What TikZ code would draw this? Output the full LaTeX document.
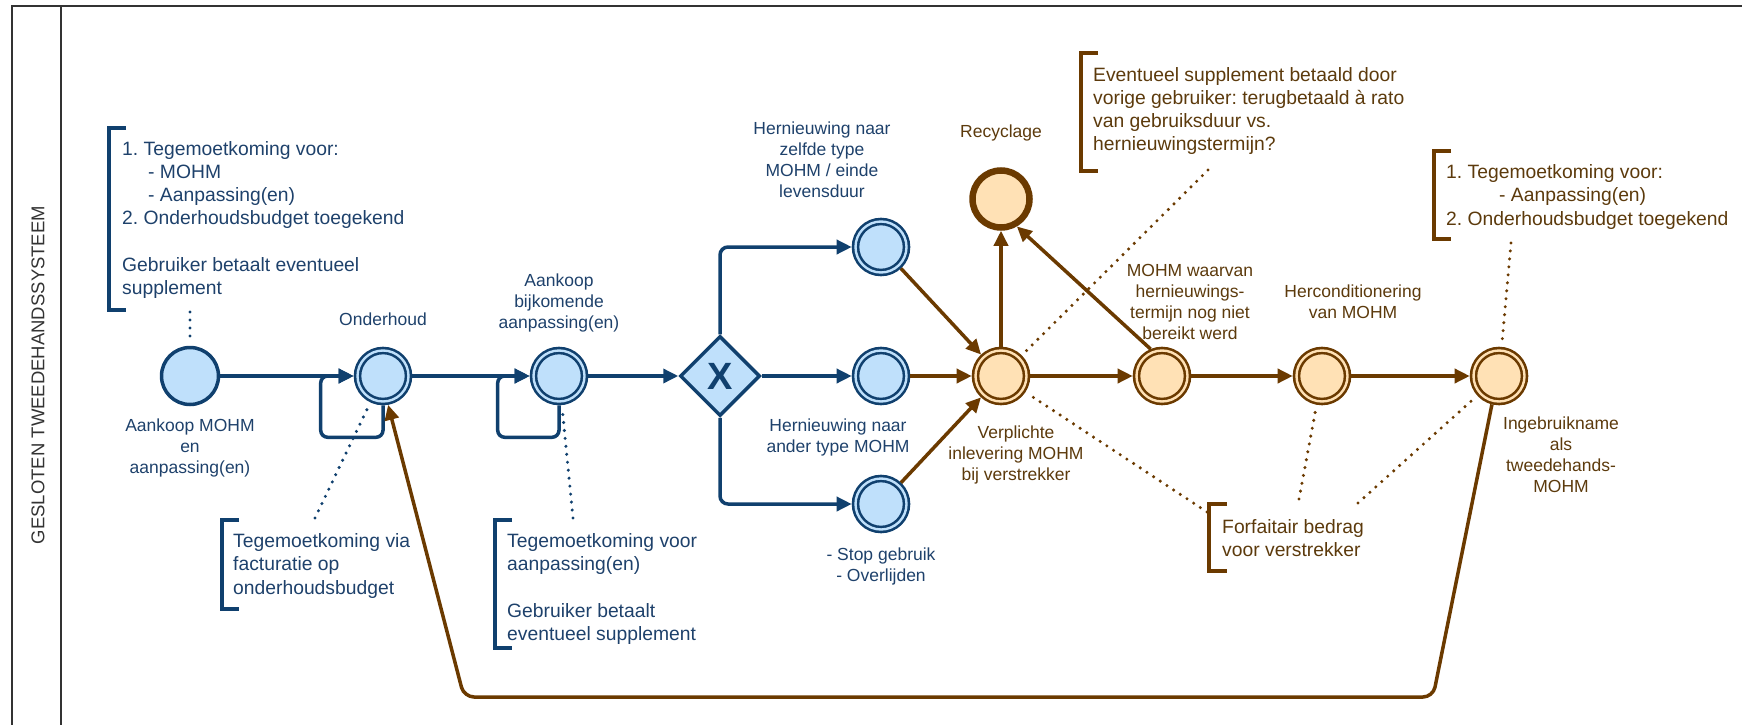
\documentclass[tikz,border=0pt]{standalone}
\usepackage{fontspec}
\setmainfont{Liberation Sans}
\frenchspacing
\usetikzlibrary{arrows.meta,shapes.geometric}
\definecolor{bS}{HTML}{10406E}
\definecolor{bF}{HTML}{BFE0FB}
\definecolor{bT}{HTML}{1E416B}
\definecolor{oS}{HTML}{6B3A00}
\definecolor{oF}{HTML}{FFE1B5}
\definecolor{oT}{HTML}{5C3A0C}
\definecolor{fr}{HTML}{333333}
\tikzset{
 lbl/.style={font=\fontsize{17.5}{21}\selectfont\frenchspacing, align=center, inner sep=0pt},
 lblB/.style={lbl, text=bT},
 lblO/.style={lbl, text=oT},
 ann/.style={font=\fontsize{19.3}{23.2}\selectfont\frenchspacing, align=left, inner sep=0pt, anchor=west},
 annB/.style={ann, text=bT},
 annO/.style={ann, text=oT},
 brkB/.style={draw=bS, line width=3.8pt},
 brkO/.style={draw=oS, line width=3.8pt},
 evS/.style={circle, draw=bS, fill=bF, line width=3.5pt, minimum size=57pt, inner sep=0pt},
 dblB/.style={circle, draw=bS, fill=bF, line width=2.6pt, double=bF, double distance=2.4pt, minimum size=51pt, inner sep=0pt, outer sep=3.8pt},
 dblO/.style={circle, draw=oS, fill=oF, line width=2.6pt, double=oF, double distance=2.4pt, minimum size=51pt, inner sep=0pt, outer sep=3.8pt},
 evEnd/.style={circle, draw=oS, fill=oF, line width=6.5pt, minimum size=57pt, inner sep=0pt},
 gwB/.style={diamond, draw=bS, fill=bF, line width=3.5pt, minimum width=80pt, minimum height=80pt, inner sep=0pt, text=bS, font=\fontsize{38}{38}\selectfont\bfseries},
 tipA/.style={-{Triangle[length=15pt,width=14pt]}},
 flowB/.style={draw=bS, line width=3.5pt, tipA},
 flowO/.style={draw=oS, line width=3.5pt, tipA},
 assocB/.style={draw=bS, line width=3.4pt, line cap=round, dash pattern=on 0pt off 8pt, shorten >=4pt},
 assocO/.style={draw=oS, line width=3.4pt, line cap=round, dash pattern=on 0pt off 8pt, shorten >=4pt},
 frameline/.style={draw=fr, line width=2.8pt},
}
\begin{document}
\begin{tikzpicture}[x=1pt,y=-1pt]
\useasboundingbox (0,0) rectangle (1742,725);
% frame
\draw[frameline] (1742,6) -- (12,6) -- (12,725);
\draw[frameline] (61,6) -- (61,725);
\node[rotate=90, text=fr, font=\fontsize{18.5}{20}\selectfont, inner sep=0pt] (lane) at (38,375) {GESLOTEN TWEEDEHANDSSYSTEEM};

% events
\node[evS] (start) at (190,376) {};
\node[dblB] (onder) at (383,376) {};
\node[dblB] (aank) at (559,376) {};
\node[gwB] (gw) at (720,376) {X};
\node[dblB] (tb) at (881,247) {};
\node[dblB] (mb) at (881,376) {};
\node[dblB] (bb) at (881,504) {};
\node[dblO] (verp) at (1001,376) {};
\node[evEnd] (recyc) at (1001,199) {};
\node[dblO] (mohm) at (1162,376) {};
\node[dblO] (herc) at (1322,376) {};
\node[dblO] (ing) at (1499,376) {};

% labels
\node[lblB] (lstart) at (190,448) {Aankoop MOHM\\en\\aanpassing(en)};
\node[lblB] (londer) at (383,319) {Onderhoud};
\node[lblB] (laank) at (559,303) {Aankoop\\bijkomende\\aanpassing(en)};
\node[lblB] (ltb) at (822,160) {Hernieuwing naar\\zelfde type\\MOHM / einde\\levensduur};
\node[lblB] (lmb) at (838,437) {Hernieuwing naar\\ander type MOHM};
\node[lblB] (lbb) at (881,566) {- Stop gebruik\\- Overlijden};
\node[lblO] (lrecyc) at (1001,133) {Recyclage};
\node[lblO] (lverp) at (1016,455) {Verplichte\\inlevering MOHM\\bij verstrekker};
\node[lblO] (lmohm) at (1190,302) {MOHM waarvan\\hernieuwings-\\termijn nog niet\\bereikt werd};
\node[lblO] (lherc) at (1353,302) {Herconditionering\\van MOHM};
\node[lblO] (ling) at (1561,455) {Ingebruikname\\als\\tweedehands-\\MOHM};

% annotations
\node[annB] (n1) at (122,220) {1. Tegemoetkoming voor:\\\hspace*{26pt}- MOHM\\\hspace*{26pt}- Aanpassing(en)\\2. Onderhoudsbudget toegekend\\[23.2pt]Gebruiker betaalt eventueel\\supplement};
\draw[brkB] (126,128) -- (109,128) -- (109,310) -- (126,310);
\node[annB] (n2) at (233,566) {Tegemoetkoming via\\facturatie op\\onderhoudsbudget};
\draw[brkB] (239,520) -- (222,520) -- (222,609) -- (239,609);
\node[annB] (n3) at (507,589) {Tegemoetkoming voor\\aanpassing(en)\\[23.2pt]Gebruiker betaalt\\eventueel supplement};
\draw[brkB] (512,520) -- (495,520) -- (495,648) -- (512,648);
\node[annO] (n4) at (1093,111) {Eventueel supplement betaald door\\vorige gebruiker: terugbetaald à rato\\van gebruiksduur vs.\\hernieuwingstermijn?};
\draw[brkO] (1098,53) -- (1081,53) -- (1081,171) -- (1098,171);
\node[annO] (n5) at (1446,197) {1. Tegemoetkoming voor:\\\hspace*{53pt}- Aanpassing(en)\\2. Onderhoudsbudget toegekend};
\draw[brkO] (1451,151) -- (1434,151) -- (1434,239) -- (1451,239);
\node[annO] (n6) at (1222,538) {Forfaitair bedrag\\voor verstrekker};
\draw[brkO] (1227,504) -- (1209,504) -- (1209,571) -- (1227,571);

% association end points
\coordinate (a1) at (190,312);
\coordinate (a2) at (315,518);
\coordinate (a3) at (573,518);
\coordinate (a4) at (1208,170);
\coordinate (a5) at (1511,243);
\coordinate (a6a) at (1207,512);
\coordinate (a6b) at (1299,499);
\coordinate (a6c) at (1358,503);
\draw[assocB] (a1) -- (start);
\draw[assocB] (a2) -- (onder);
\draw[assocB] (a3) -- (aank);
\draw[assocO] (a4) -- (verp);
\draw[assocO] (a5) -- (ing);
\draw[assocO] (a6a) -- (verp);
\draw[assocO] (a6b) -- (herc);
\draw[assocO] (a6c) -- (ing);

% blue flows
\draw[flowB] (start) -- (onder);
\draw[flowB] (onder) -- (aank);
\draw[flowB] (aank) -- (gw);
\draw[flowB] (gw) -- (mb);
\draw[flowB, rounded corners=8pt] (gw.north) |- (tb);
\draw[flowB, rounded corners=8pt] (gw.south) |- (bb);
\draw[flowB, rounded corners=7pt] (onder.south) -- ++(0,32) -| ([xshift=-33pt]onder.west) -- (onder.west);
\draw[flowB, rounded corners=7pt] (aank.south) -- ++(0,32) -| ([xshift=-32pt]aank.west) -- (aank.west);

% orange flows
\draw[flowO] (tb) -- (verp);
\draw[flowO] (mb) -- (verp);
\draw[flowO] (bb) -- (verp);
\draw[flowO] (verp) -- (recyc);
\draw[flowO] (mohm.113) -- (recyc.-60);
\draw[flowO] (verp) -- (mohm);
\draw[flowO] (mohm) -- (herc);
\draw[flowO] (herc) -- (ing);
\coordinate (c1) at (1433,697);
\coordinate (c2) at (464,697);
\draw[flowO, rounded corners=10pt] (ing.256) -- (c1) -- (c2) -- (onder.280);
\end{tikzpicture}
\end{document}
